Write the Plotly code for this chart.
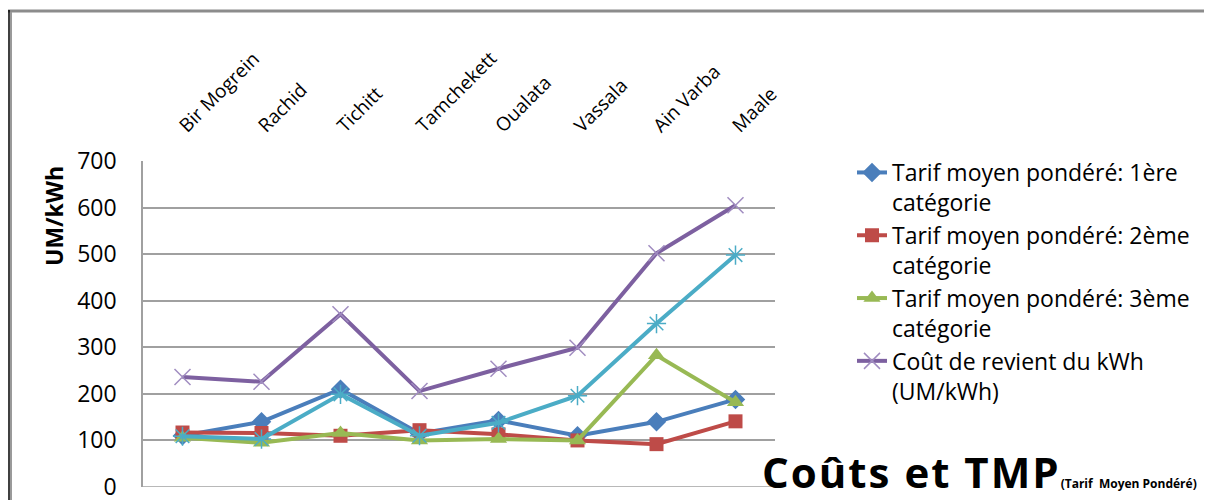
import plotly.graph_objects as go

# data
sites = ["Bir Mogrein", "Rachid", "Tichitt", "Tamchekett", "Oualata", "Vassala", "Ain Varba", "Maale"]
tarif_1 = [110, 140, 210, 115, 143, 110, 140, 188]
tarif_2 = [117, 116, 110, 122, 113, 100, 92, 141]
tarif_3 = [106, 95, 116, 100, 103, 100, 283, 182]
cout_kwh = [236, 226, 371, 206, 254, 299, 502, 605]
cout_autre = [109, 103, 199, 110, 138, 196, 351, 498]

noms = [
    "Tarif moyen pondéré: 1ère<br>catégorie",
    "Tarif moyen pondéré: 2ème<br>catégorie",
    "Tarif moyen pondéré: 3ème<br>catégorie",
    "Coût de revient du kWh<br>(UM/kWh)",
]

# page body has an 8px margin, so work in screen pixels and shift
OFF = 8
W, H = 1212 - OFF, 500 - OFF
L, R, T, B = 143 - OFF, 775 - OFF, 161 - OFF, 487 - OFF  # plot area

def px_x(x):
    return (x - OFF - L) / (R - L)

def px_y(y):
    return (B - (y - OFF)) / (B - T)

FONT = "Open Sans"

fig = go.Figure()

fig.add_trace(go.Scatter(
    x=sites, y=tarif_1, name=noms[0], mode="lines+markers",
    line=dict(color="#4A7EBB", width=4),
    marker=dict(symbol="diamond", size=15, color="#4A7EBB"),
))
fig.add_trace(go.Scatter(
    x=sites, y=tarif_2, name=noms[1], mode="lines+markers",
    line=dict(color="#BE4B48", width=4),
    marker=dict(symbol="square", size=14, color="#BE4B48"),
))
fig.add_trace(go.Scatter(
    x=sites, y=tarif_3, name=noms[2], mode="lines+markers",
    line=dict(color="#98B954", width=4),
    marker=dict(symbol="triangle-up", size=15, color="#98B954"),
))
fig.add_trace(go.Scatter(
    x=sites, y=cout_kwh, name=noms[3], mode="lines+markers",
    line=dict(color="#7D60A0", width=4),
    marker=dict(symbol="x-thin", size=16, line=dict(color="#A08CC0", width=1.5)),
))
fig.add_trace(go.Scatter(
    x=sites, y=cout_autre, name="", mode="lines+markers", showlegend=False,
    line=dict(color="#4BACC6", width=4),
    marker=dict(symbol="asterisk", size=16, line=dict(color="#4BACC6", width=1.5)),
))

fig.update_xaxes(
    side="top", tickangle=-45, showgrid=False, showline=False, zeroline=False,
    tickfont=dict(family=FONT, size=19, color="#000"),
    ticks="", ticklabelstandoff=20, ticklabelshift=-2, range=[-0.5, 7.5],
)
fig.update_yaxes(
    range=[0, 700], dtick=100, showgrid=True, gridcolor="#A0A0A0", gridwidth=1.5,
    zeroline=False, showline=True, linecolor="#A0A0A0", linewidth=1.5,
    tickfont=dict(family=FONT, size=23, color="#000"),
    ticks="", ticklabelstandoff=20, ticklabeloverflow="allow",
)

# outer frame
fig.add_shape(type="line", xref="paper", yref="paper",
              x0=px_x(8), x1=px_x(1212), y0=px_y(11), y1=px_y(11),
              line=dict(color="#8C8C8C", width=3))
fig.add_shape(type="line", xref="paper", yref="paper",
              x0=px_x(9), x1=px_x(9), y0=px_y(10), y1=px_y(500),
              line=dict(color="#000", width=1.5))
fig.add_shape(type="line", xref="paper", yref="paper",
              x0=px_x(11), x1=px_x(11), y0=px_y(12), y1=px_y(500),
              line=dict(color="#9A9A9A", width=2))
# bottom gridline at 0
fig.add_shape(type="line", xref="paper", yref="y",
              x0=0, x1=1, y0=0, y1=0, line=dict(color="#A0A0A0", width=1.5))

fig.add_annotation(
    text="<b>UM/kWh</b>", textangle=-90, showarrow=False,
    xref="paper", yref="paper", x=px_x(54), y=px_y(216),
    xanchor="center", yanchor="middle",
    font=dict(family=FONT, size=23, color="#000"),
)
fig.add_annotation(
    text="<b><span style='letter-spacing:2px'>Coûts et TMP</span></b>"
         "<b><span style='font-size:12px'>(Tarif  Moyen Pondéré)</span></b>",
    showarrow=False, xref="paper", yref="paper",
    x=px_x(760), y=px_y(502), xanchor="left", yanchor="bottom",
    font=dict(family=FONT, size=42, color="#000"),
)

fig.update_layout(
    width=W, height=H,
    margin=dict(l=L, r=W - R, t=T, b=H - B, autoexpand=False),
    paper_bgcolor="white", plot_bgcolor="white",
    font=dict(family=FONT, color="#000"),
    legend=dict(
        x=px_x(852), y=px_y(151), xanchor="left", yanchor="top",
        font=dict(family=FONT, size=23, color="#000"),
        valign="top", tracegroupgap=4, itemwidth=30, maxheight=1,
    ),
)

fig.write_html("out.html")
